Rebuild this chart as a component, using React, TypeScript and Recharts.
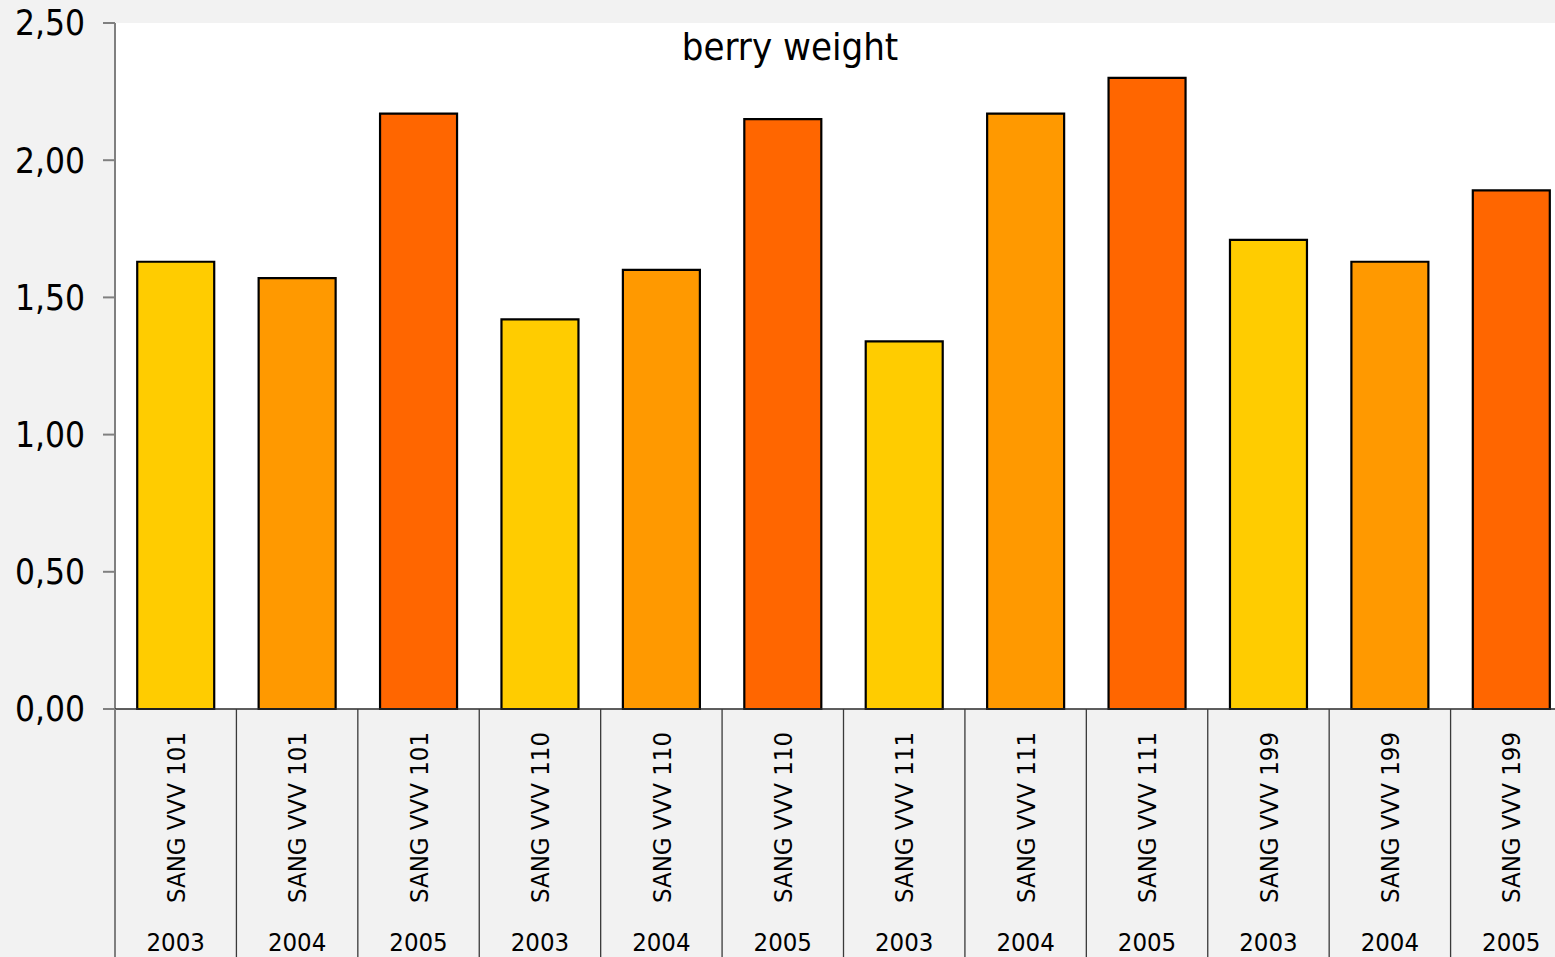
import React from "react";
import { BarChart, Bar, XAxis, YAxis, CartesianGrid, Cell } from "recharts";

// Clone names, seasons and mean berry weight (g)
const clones = [
  "SANG VVV 101", "SANG VVV 101", "SANG VVV 101",
  "SANG VVV 110", "SANG VVV 110", "SANG VVV 110",
  "SANG VVV 111", "SANG VVV 111", "SANG VVV 111",
  "SANG VVV 199", "SANG VVV 199", "SANG VVV 199",
];
const years = ["2003", "2004", "2005", "2003", "2004", "2005", "2003", "2004", "2005", "2003", "2004", "2005"];
const berryWeight = [1.63, 1.57, 2.17, 1.42, 1.6, 2.15, 1.34, 2.17, 2.3, 1.71, 1.63, 1.89];
const yTicks = [0, 0.5, 1, 1.5, 2, 2.5];
const yearColors: Record<string, string> = { "2003": "#FFCC00", "2004": "#FF9900", "2005": "#FF6600" };

const data = clones.map((clone, i) => ({ key: `${clone}-${years[i]}`, clone, year: years[i], value: berryWeight[i] }));

const FONT = "'DejaVu Sans Condensed', 'DejaVu Sans', sans-serif";
const CHART_W = 1580;
const CHART_H = 957;
const LEFT = 115;
const RIGHT_MARGIN = 8;
const TOP = 23;
const X_AXIS_H = 248;
const PLOT_BOTTOM = CHART_H - X_AXIS_H;
const STEP = (CHART_W - LEFT - RIGHT_MARGIN) / data.length;

const CategoryTick = (props: any) => {
  const { x, index } = props;
  const d = data[index];
  if (!d) return null;
  const sepX = x - STEP / 2;
  return (
    <g>
      <line
        x1={sepX}
        x2={sepX}
        y1={PLOT_BOTTOM}
        y2={CHART_H}
        stroke={index === 0 ? "#808080" : "#3a3a3a"}
        strokeWidth={index === 0 ? 2 : 1.3}
      />
      <text
        x={x}
        y={PLOT_BOTTOM + 23}
        transform={`rotate(-90, ${x}, ${PLOT_BOTTOM + 23})`}
        textAnchor="end"
        dy="0.36em"
        fontSize={25.5}
        fontFamily={FONT}
        fill="#000"
      >
        {d.clone}
      </text>
      <text x={x} y={951} textAnchor="middle" fontSize={25.5} fontFamily={FONT} fill="#000">
        {d.year}
      </text>
    </g>
  );
};

export default function App() {
  return (
    <div
      style={{
        position: "absolute",
        left: 0,
        top: 0,
        width: 1555,
        height: 957,
        overflow: "hidden",
        background: "#f2f2f2",
      }}
    >
      <BarChart
        width={CHART_W}
        height={CHART_H}
        data={data}
        margin={{ top: TOP, right: RIGHT_MARGIN, left: 0, bottom: 0 }}
        barCategoryGap="18.3%"
      >
        <CartesianGrid fill="#ffffff" stroke="none" horizontal={false} vertical={false} />
        <YAxis
          width={LEFT}
          domain={[0, 2.5]}
          ticks={yTicks}
          interval={0}
          tickFormatter={(v: number) => v.toFixed(2).replace(".", ",")}
          stroke="#808080"
          strokeWidth={2}
          tickSize={12}
          tickMargin={18}
          tick={{ fontSize: 35, fontFamily: FONT, fill: "#000" }}
        />
        <XAxis
          dataKey="key"
          height={X_AXIS_H}
          interval={0}
          stroke="#2a2a2a"
          strokeWidth={1.5}
          tickLine={false}
          tick={<CategoryTick />}
        />
        <Bar dataKey="value" stroke="#000" strokeWidth={2.2} isAnimationActive={false}>
          {data.map((d) => (
            <Cell key={d.key} fill={yearColors[d.year]} />
          ))}
        </Bar>
        <text x={790} y={60} textAnchor="middle" fontSize={38} fontFamily={FONT} fill="#000">
          berry weight
        </text>
      </BarChart>
    </div>
  );
}
